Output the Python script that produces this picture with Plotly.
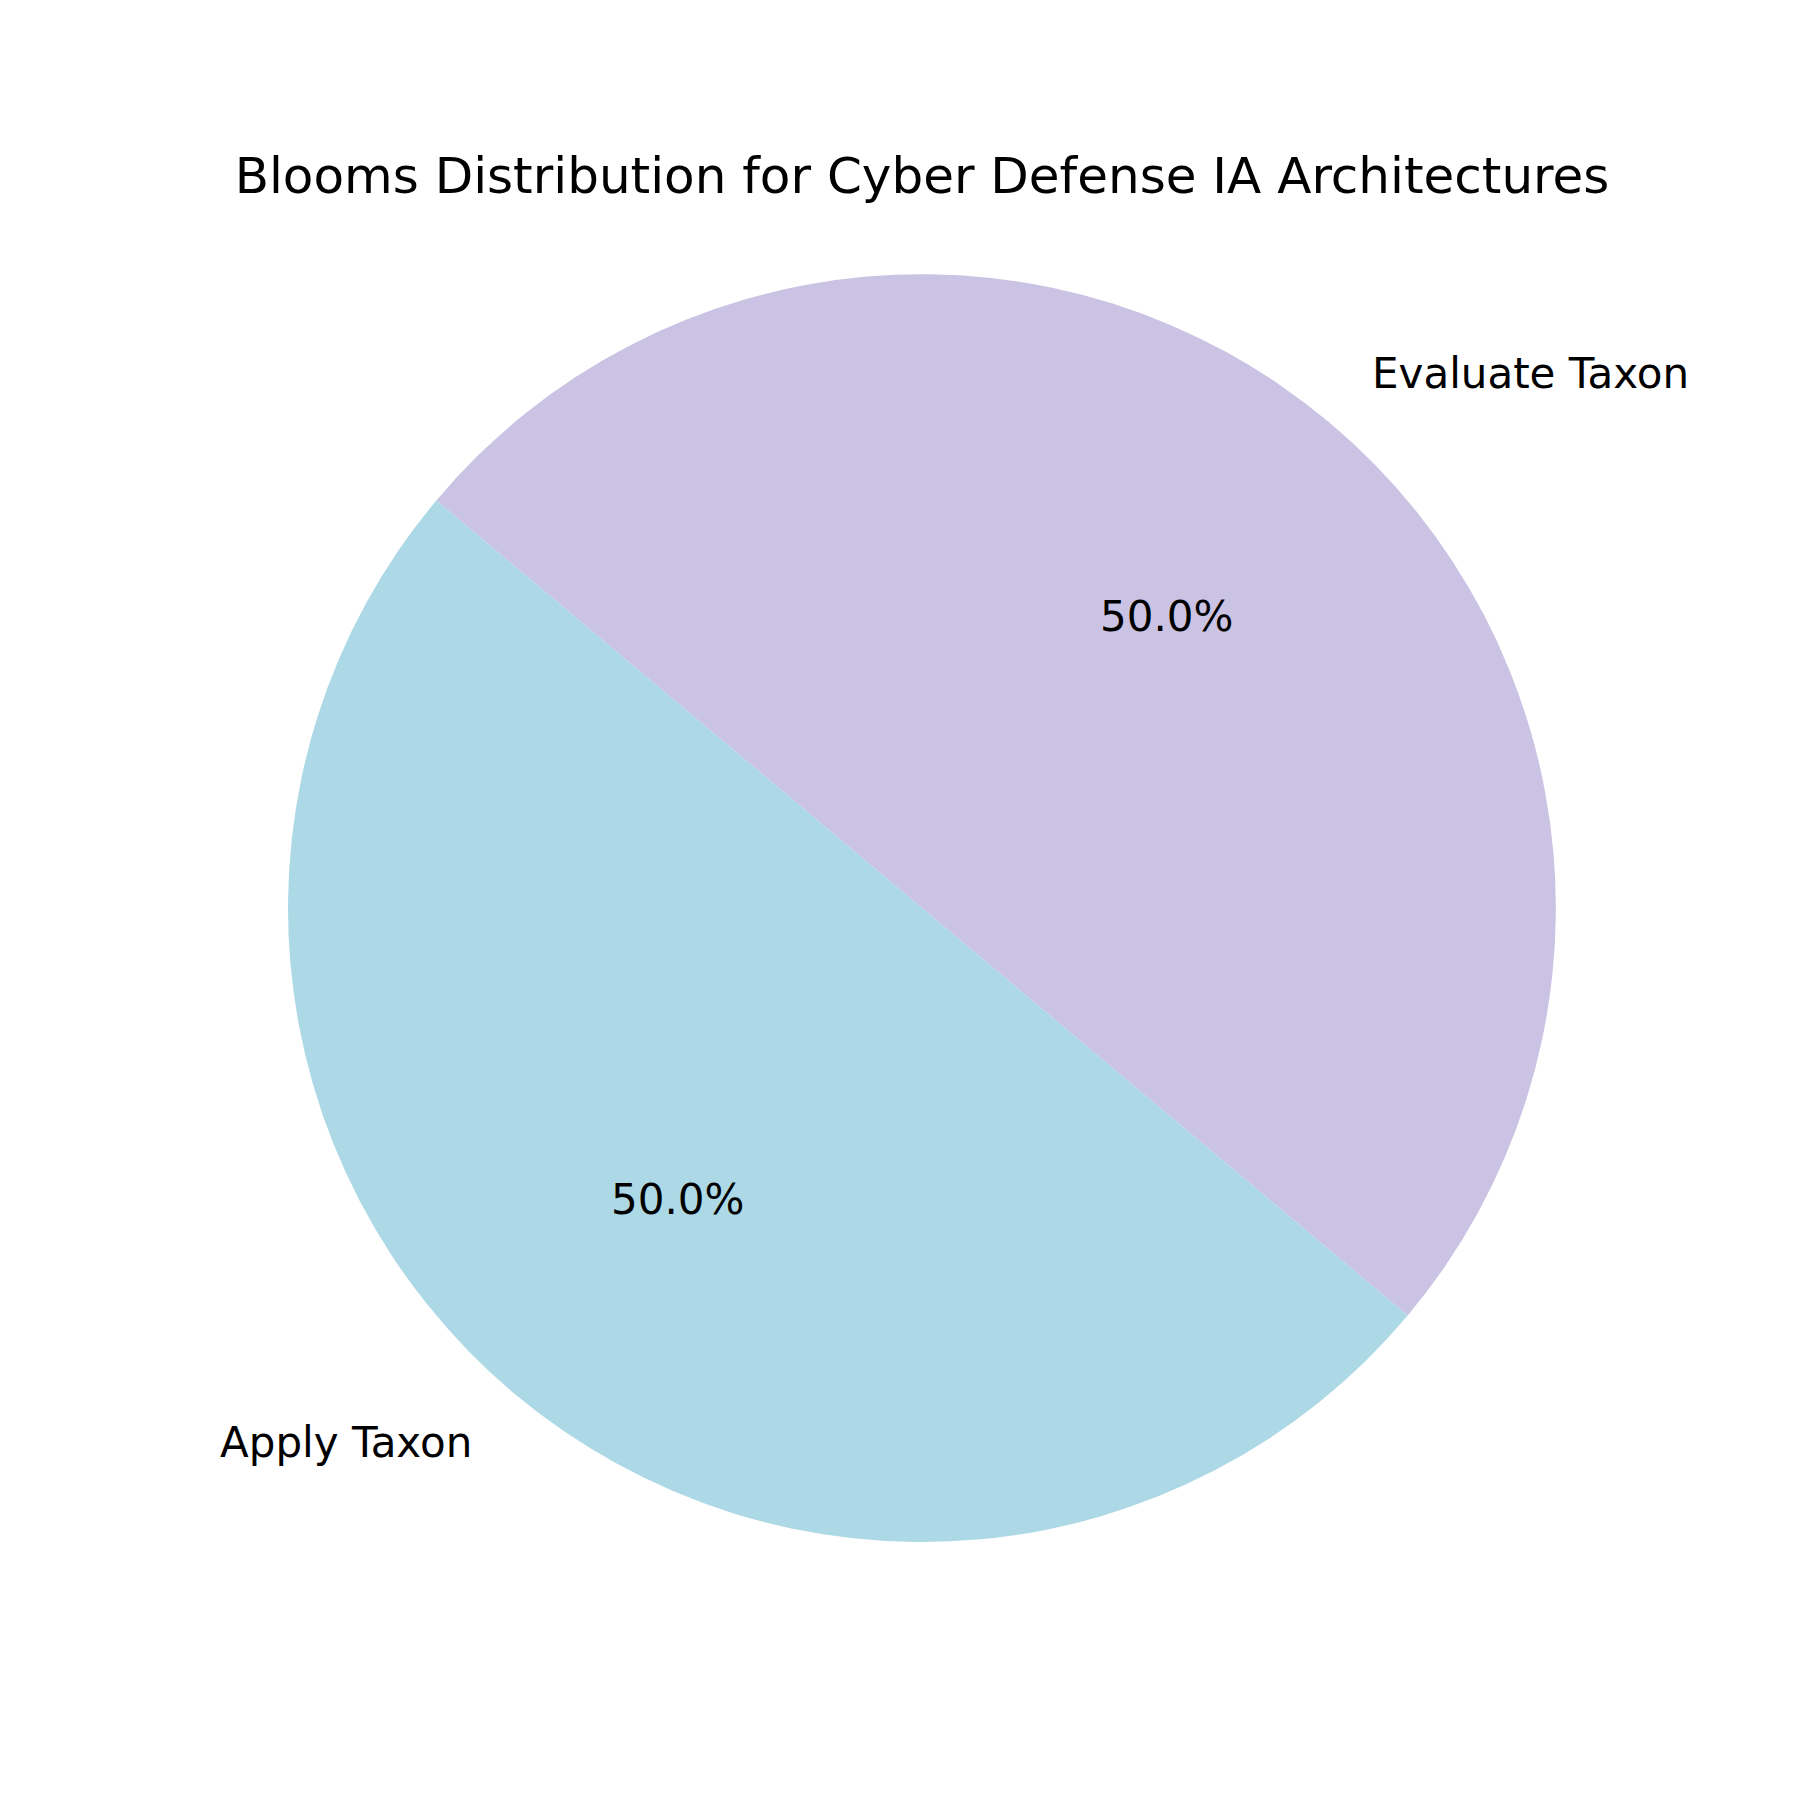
import math
import plotly.graph_objects as go

labels = ["Apply Taxon", "Evaluate Taxon"]
values = [50, 50]
colors = ["#ADD8E6", "#CBC3E3"]
title_text = "Blooms Distribution for Cyber Defense IA Architectures"

W = H = 1800
cx, cy, R = 914, 900, 634
start_angle = 140  # degrees, counterclockwise from +x (matplotlib style)

dom_x = [(cx - R) / W, (cx + R) / W]
dom_y = [1 - (cy + R) / H, 1 - (cy - R) / H]

# Plotly draws clockwise here; start from the end angle of the counterclockwise sweep
end_angle = start_angle + 360
fig = go.Figure(go.Pie(
    labels=labels[::-1], values=values[::-1], sort=False,
    direction="clockwise", rotation=-(start_angle - 90),
    marker=dict(colors=colors[::-1], line=dict(width=0)),
    textinfo="none", hoverinfo="label+percent",
    domain=dict(x=dom_x, y=dom_y), showlegend=False,
))

annotations = []
total = sum(values)
ang = start_angle
for lab, v in zip(labels, values):
    span = 360 * v / total
    mid = math.radians(ang + span / 2)
    ang += span
    c, s = math.cos(mid), math.sin(mid)
    # outside label at 1.1 R
    lx, ly = cx + 1.1 * R * c, cy - 1.1 * R * s
    annotations.append(dict(
        x=lx / W, y=1 - ly / H, xref="paper", yref="paper", text=lab,
        showarrow=False, xanchor="left" if c > 0 else "right", yanchor="middle",
        font=dict(family="DejaVu Sans", size=42, color="black")))
    px, py = cx + 0.6 * R * c, cy - 0.6 * R * s
    annotations.append(dict(
        x=px / W, y=1 - py / H, xref="paper", yref="paper",
        text=f"{100 * v / total:.1f}%",
        showarrow=False, xanchor="center", yanchor="middle",
        font=dict(family="DejaVu Sans", size=42, color="black")))

fig.update_layout(
    width=W, height=H,
    margin=dict(l=0, r=0, t=0, b=0),
    paper_bgcolor="white", plot_bgcolor="white",
    title=dict(text=title_text, x=cx / W, xanchor="center", y=1 - 167 / H, yanchor="middle",
               font=dict(family="DejaVu Sans", size=50, color="black")),
    annotations=annotations,
)

fig.write_html("out.html")
